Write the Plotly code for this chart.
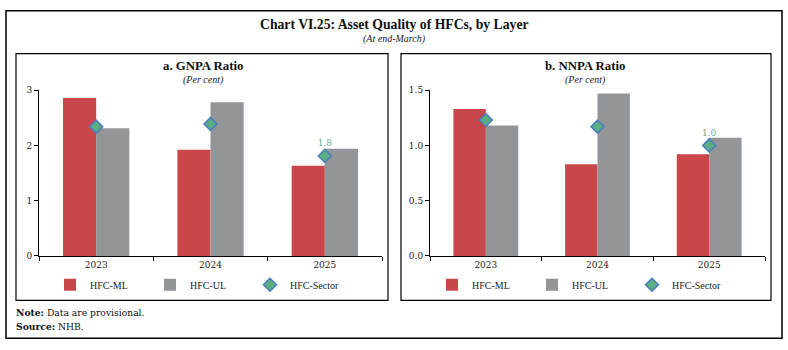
import plotly.graph_objects as go

years = ["2023", "2024", "2025"]
gnpa_ml = [2.86, 1.92, 1.63]
gnpa_ul = [2.31, 2.78, 1.94]
gnpa_sector = [2.34, 2.39, 1.81]
gnpa_labels = ["", "", "1.8"]

nnpa_ml = [1.33, 0.83, 0.92]
nnpa_ul = [1.18, 1.47, 1.07]
nnpa_sector = [1.23, 1.17, 1.00]
nnpa_labels = ["", "", "1.0"]

RED = "#C9474A"
GREY = "#939598"
GREEN = "#5BAE7F"
BLUE = "#4A7CC0"
SERIF = "DejaVu Serif"
LSERIF = "Liberation Serif"

W, H = 788, 350
def px(x):
    return x / W
def py(y):
    return 1 - y / H

fig = go.Figure()

def add_panel(ml, ul, sec, labels, xa, ya, leg):
    fig.add_trace(go.Bar(x=years, y=ml, name="HFC-ML", marker=dict(color=RED, line=dict(width=0)),
                         xaxis=xa, yaxis=ya, legend=leg))
    fig.add_trace(go.Bar(x=years, y=ul, name="HFC-UL", marker=dict(color=GREY, line=dict(width=0)),
                         xaxis=xa, yaxis=ya, legend=leg))
    fig.add_trace(go.Scatter(x=years, y=sec, name="HFC-Sector", mode="markers+text",
                             text=labels, textposition="top center",
                             textfont=dict(family=SERIF, size=9, color=GREEN),
                             marker=dict(symbol="diamond", size=10, color=GREEN,
                                         line=dict(color=BLUE, width=1.5)),
                             xaxis=xa, yaxis=ya, legend=leg))

add_panel(gnpa_ml, gnpa_ul, gnpa_sector, gnpa_labels, "x", "y", "legend")
add_panel(nnpa_ml, nnpa_ul, nnpa_sector, nnpa_labels, "x2", "y2", "legend2")

ydom = [py(258.3), py(87.7)]
xcommon = dict(type="category", showline=True, linecolor="black", linewidth=1,
               ticks="outside", tickson="boundaries", ticklen=4, tickcolor="black",
               showgrid=False, tickfont=dict(family=SERIF, size=9, color="#222"),
               fixedrange=True)
ycommon = dict(showline=True, linecolor="black", linewidth=1, ticks="outside", ticklen=4,
               tickcolor="black", showgrid=False, zeroline=False,
               tickfont=dict(family=SERIF, size=9, color="#222"))

legcommon = dict(orientation="h", xanchor="left", yanchor="middle", y=py(288),
                 entrywidth=55, entrywidthmode="pixels", bgcolor="rgba(0,0,0,0)",
                 font=dict(family=LSERIF, size=10, color="#222"), itemclick=False,
                 tracegroupgap=0)

fig.update_layout(
    width=W, height=H, margin=dict(l=0, r=0, t=0, b=0),
    paper_bgcolor="white", plot_bgcolor="white",
    barmode="group", bargap=0.42, bargroupgap=0,
    xaxis=dict(domain=[px(39), px(382)], anchor="y", **xcommon),
    yaxis=dict(domain=ydom, range=[0, 3], dtick=1, anchor="x", **ycommon),
    xaxis2=dict(domain=[px(430), px(765)], anchor="y2", **xcommon),
    yaxis2=dict(domain=ydom, range=[0, 1.5], dtick=0.5, tickformat=".1f", anchor="x2", **ycommon),
    legend=dict(x=px(50), **legcommon),
    legend2=dict(x=px(432), **legcommon),
    showlegend=True,
)

shapes = [
    dict(type="rect", xref="paper", yref="paper", x0=px(6), x1=px(782), y0=py(343), y1=py(6),
         line=dict(color="black", width=1.5)),
    dict(type="rect", xref="paper", yref="paper", x0=px(16), x1=px(388), y0=py(304), y1=py(50),
         line=dict(color="black", width=1.2)),
    dict(type="rect", xref="paper", yref="paper", x0=px(401), x1=px(771), y0=py(304), y1=py(50),
         line=dict(color="black", width=1.2)),
]
fig.update_layout(shapes=shapes)

ann = [
    dict(text="<b>Chart VI.25: Asset Quality of HFCs, by Layer</b>", x=px(394), y=py(20.5),
         font=dict(family=LSERIF, size=13.7, color="#111")),
    dict(text="<i>(At end-March)</i>", x=px(394), y=py(35.5),
         font=dict(family=LSERIF, size=10, color="#222")),
    dict(text="<b>a. GNPA Ratio</b>", x=px(203), y=py(63),
         font=dict(family=LSERIF, size=12.8, color="#111")),
    dict(text="<i>(Per cent)</i>", x=px(203), y=py(77),
         font=dict(family=LSERIF, size=10, color="#222")),
    dict(text="<b>b. NNPA Ratio</b>", x=px(585), y=py(63),
         font=dict(family=LSERIF, size=12.8, color="#111")),
    dict(text="<i>(Per cent)</i>", x=px(585), y=py(77),
         font=dict(family=LSERIF, size=10, color="#222")),
    dict(text="<b>Note:</b> Data are provisional.", x=px(14), y=py(317), xanchor="left",
         font=dict(family=SERIF, size=9.2, color="#111")),
    dict(text="<b>Source:</b> NHB.", x=px(14), y=py(331), xanchor="left",
         font=dict(family=SERIF, size=9.2, color="#111")),
]
for a in ann:
    a.setdefault("xanchor", "center")
    a.update(xref="paper", yref="paper", yanchor="middle", showarrow=False)
fig.update_layout(annotations=ann)

fig.write_html("out.html")
